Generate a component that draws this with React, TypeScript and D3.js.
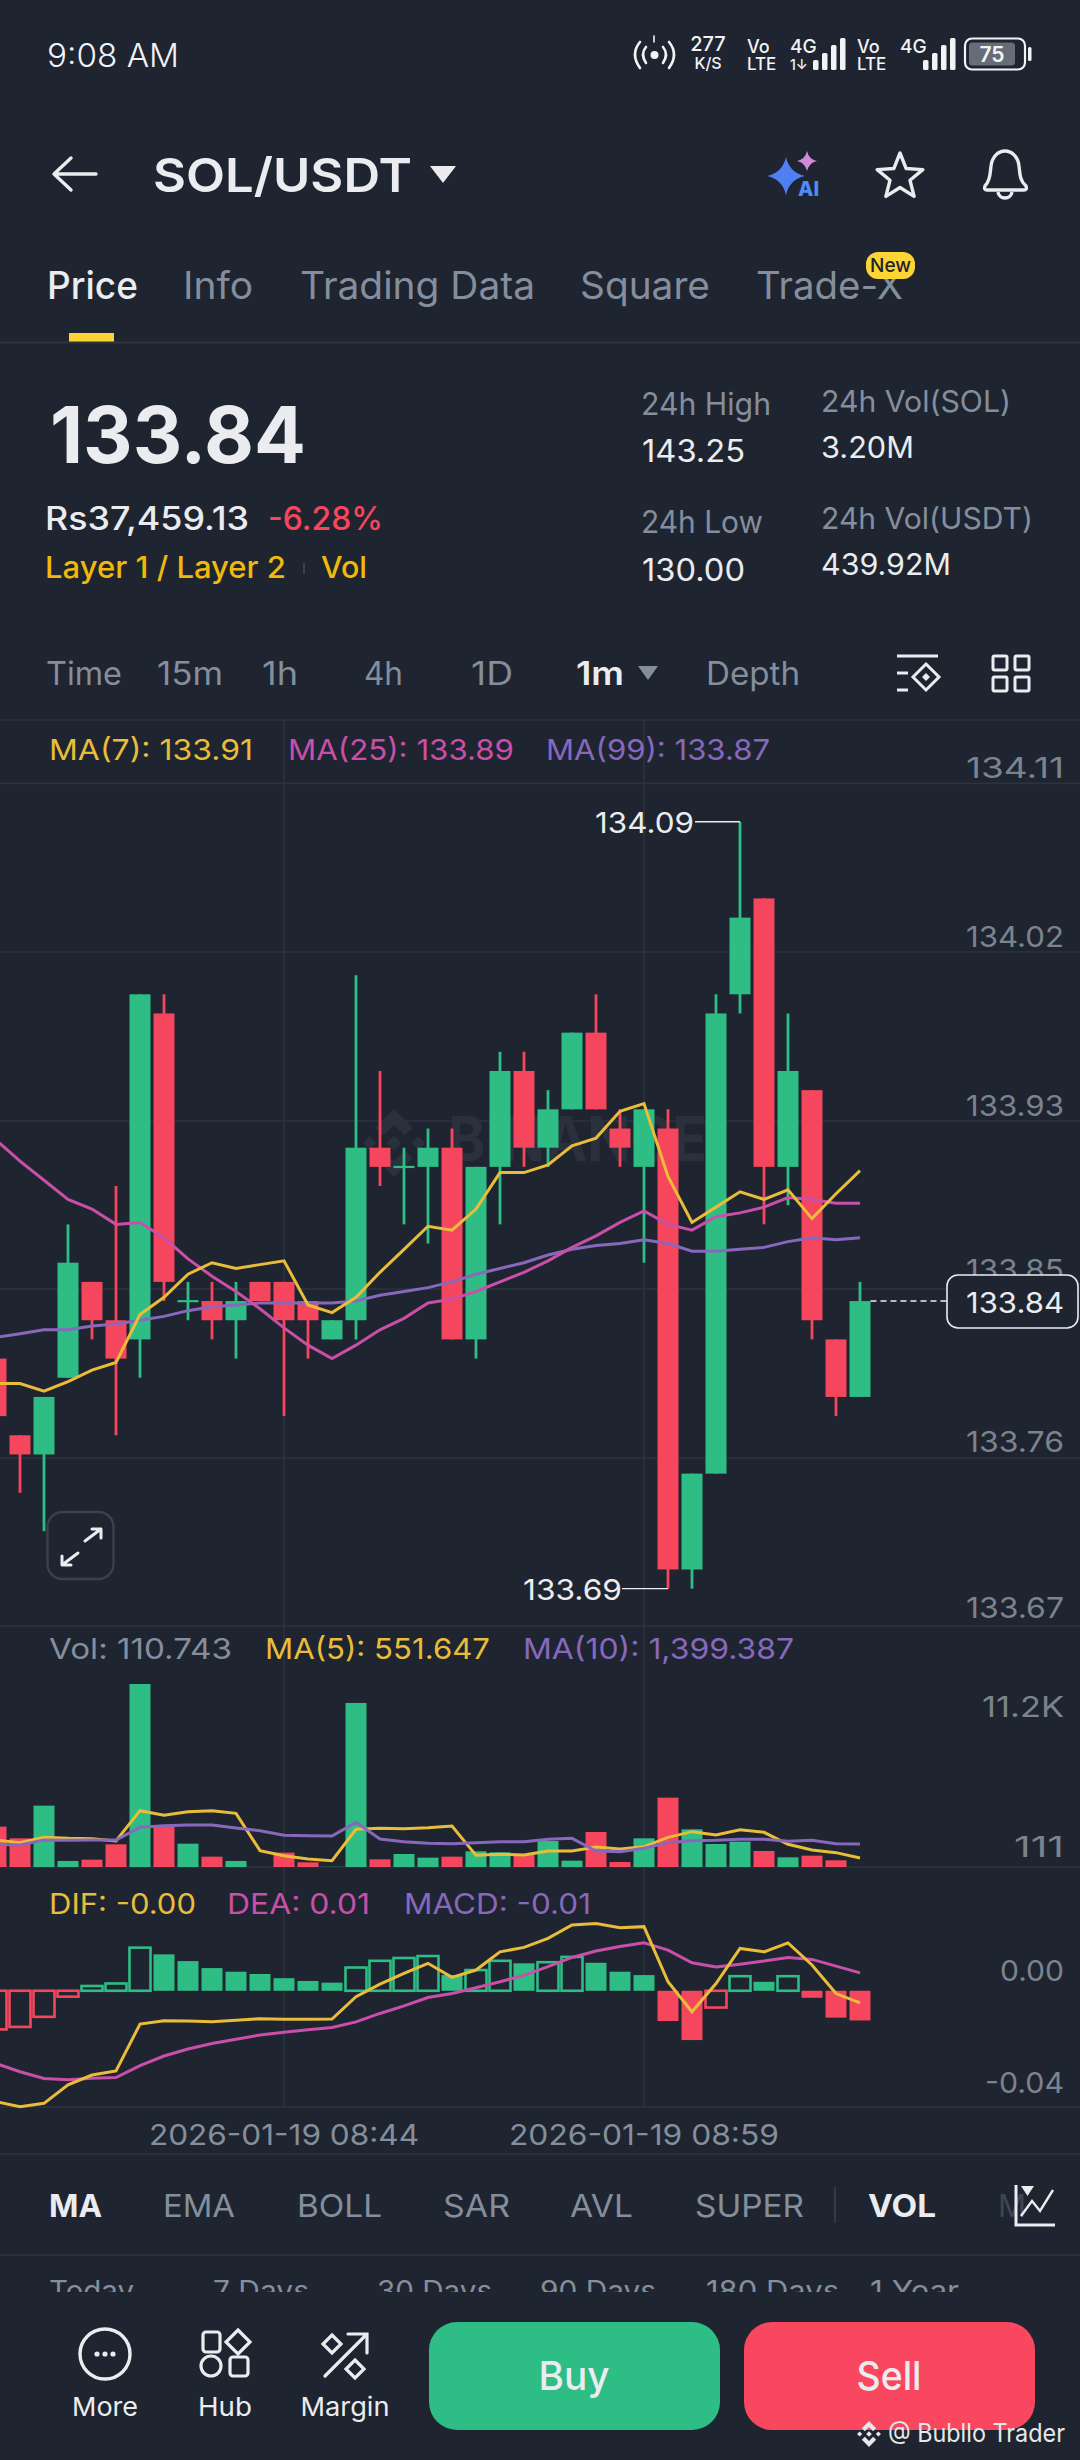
import * as d3 from "d3";

// one candle per minute, 08:32 to 09:08
const minutes = [
  "08:32", "08:33", "08:34", "08:35", "08:36", "08:37", "08:38", "08:39", "08:40", "08:41",
  "08:42", "08:43", "08:44", "08:45", "08:46", "08:47", "08:48", "08:49", "08:50", "08:51",
  "08:52", "08:53", "08:54", "08:55", "08:56", "08:57", "08:58", "08:59", "09:00", "09:01",
  "09:02", "09:03", "09:04", "09:05", "09:06", "09:07", "09:08",
];
const opens = [
  133.81, 133.77, 133.76, 133.80, 133.85, 133.83, 133.82, 133.99, 133.84, 133.84,
  133.83, 133.85, 133.85, 133.84, 133.82, 133.83, 133.92, 133.91, 133.91, 133.92,
  133.82, 133.91, 133.96, 133.92, 133.94, 133.98, 133.93, 133.91, 133.93, 133.70,
  133.75, 134.00, 134.05, 133.91, 133.95, 133.82, 133.79,
];
const closes = [
  133.78, 133.76, 133.79, 133.86, 133.83, 133.81, 134.00, 133.85, 133.84, 133.83,
  133.84, 133.84, 133.83, 133.83, 133.83, 133.92, 133.91, 133.91, 133.92, 133.82,
  133.91, 133.96, 133.92, 133.94, 133.98, 133.94, 133.92, 133.94, 133.70, 133.75,
  133.99, 134.04, 133.91, 133.96, 133.83, 133.79, 133.84,
];
const highs = [
  133.81, 133.77, 133.79, 133.88, 133.85, 133.90, 134.00, 134.00, 133.85, 133.85,
  133.85, 133.85, 133.85, 133.84, 133.83, 134.01, 133.96, 133.92, 133.93, 133.93,
  133.91, 133.97, 133.97, 133.95, 133.98, 134.00, 133.94, 133.94, 133.94, 133.75,
  134.00, 134.09, 134.05, 133.99, 133.95, 133.82, 133.85,
];
const lows = [
  133.78, 133.74, 133.72, 133.80, 133.82, 133.77, 133.80, 133.84, 133.83, 133.82,
  133.81, 133.84, 133.78, 133.81, 133.82, 133.82, 133.90, 133.88, 133.87, 133.82,
  133.81, 133.88, 133.91, 133.91, 133.94, 133.94, 133.91, 133.86, 133.69, 133.69,
  133.75, 133.99, 133.88, 133.89, 133.82, 133.78, 133.79,
];
const ma7 = [
  133.797, 133.797, 133.793, 133.798, 133.804, 133.808, 133.833, 133.842, 133.854, 133.860,
  133.857, 133.859, 133.861, 133.838, 133.834, 133.842, 133.855, 133.867, 133.879, 133.877,
  133.888, 133.907, 133.907, 133.911, 133.921, 133.925, 133.939, 133.943, 133.905, 133.881,
  133.889, 133.897, 133.893, 133.898, 133.883, 133.896, 133.908,
];
const ma25 = [
  133.924, 133.913, 133.903, 133.893, 133.888, 133.880, 133.881, 133.873, 133.862, 133.853,
  133.845, 133.836, 133.826, 133.817, 133.810, 133.817, 133.825, 133.831, 133.839, 133.841,
  133.845, 133.850, 133.855, 133.861, 133.868, 133.874, 133.881, 133.887, 133.880, 133.877,
  133.884, 133.886, 133.889, 133.894, 133.893, 133.891, 133.891,
];
const ma99 = [
  133.821, 133.823, 133.825, 133.825, 133.827, 133.828, 133.830, 133.832, 133.835, 133.837,
  133.838, 133.839, 133.839, 133.839, 133.839, 133.840, 133.843, 133.845, 133.847, 133.850,
  133.854, 133.857, 133.860, 133.864, 133.867, 133.869, 133.870, 133.872, 133.870, 133.866,
  133.866, 133.867, 133.868, 133.871, 133.873, 133.872, 133.873,
];
const volumes = [
  2555, 1848, 3828, 475, 555, 1485, 11200, 2555, 1525, 737,
  475, 115, 980, 394, 120, 10050, 575, 899, 677, 737,
  1060, 1000, 838, 1687, 495, 2232, 414, 1848, 4313, 2394,
  1505, 1646, 1081, 697, 798, 515, 110.743,
];
const volMa5 = [
  1747, 1586, 1909, 1848, 1828, 1687, 3525, 3242, 3464, 3525,
  3363, 1101, 798, 596, 495, 2394, 2454, 2434, 2495, 2596,
  818, 879, 838, 1081, 1081, 1323, 1202, 1343, 1909, 2252,
  2050, 2373, 2212, 1485, 1141, 980, 656,
];
const volMa10 = [
  1485, 1444, 1747, 1727, 1747, 1747, 2515, 2616, 2656, 2656,
  2474, 2313, 2030, 2010, 1990, 2818, 1808, 1646, 1545, 1525,
  1586, 1646, 1646, 1788, 1848, 1081, 1040, 1242, 1586, 1707,
  1727, 1788, 1788, 1666, 1727, 1525, 1505,
];
const macd = [
  -0.0138, -0.0129, -0.0093, -0.0021, 0.0017, 0.0026, 0.0154, 0.0130, 0.0106, 0.0081,
  0.0068, 0.0060, 0.0045, 0.0035, 0.0029, 0.0083, 0.0107, 0.0117, 0.0124, 0.0056,
  0.0074, 0.0107, 0.0098, 0.0102, 0.0121, 0.0100, 0.0068, 0.0056, -0.0108, -0.0176,
  -0.0060, 0.0052, 0.0032, 0.0052, -0.0025, -0.0096, -0.0106,
];
const dif = [
  -0.0396, -0.0414, -0.0402, -0.0336, -0.0301, -0.0286, -0.0119, -0.0107, -0.0108, -0.0111,
  -0.0105, -0.0100, -0.0102, -0.0102, -0.0101, -0.0021, 0.0024, 0.0062, 0.0098, 0.0048,
  0.0074, 0.0139, 0.0155, 0.0187, 0.0235, 0.0240, 0.0225, 0.0229, 0.0032, -0.0075,
  0.0026, 0.0151, 0.0139, 0.0171, 0.0092, -0.0010, -0.0043,
];
const dea = [
  -0.0260, -0.0289, -0.0313, -0.0318, -0.0312, -0.0310, -0.0267, -0.0233, -0.0208, -0.0188,
  -0.0173, -0.0158, -0.0148, -0.0139, -0.0131, -0.0111, -0.0081, -0.0054, -0.0024, -0.0010,
  0.0011, 0.0032, 0.0055, 0.0086, 0.0119, 0.0142, 0.0158, 0.0171, 0.0145, 0.0100,
  0.0085, 0.0095, 0.0106, 0.0119, 0.0112, 0.0088, 0.0064,
];
const priceTicks = ["134.11", "134.02", "133.93", "133.85", "133.76", "133.67"];
const tabs = ["Info", "Trading Data", "Square", "Trade-X"];
const ranges = ["Time", "15m", "1h", "4h", "1D"];
const overlays = ["EMA", "BOLL", "SAR", "AVL", "SUPER"];
const periods = ["Today", "7 Days", "30 Days", "90 Days", "180 Days", "1 Year"];

// text layout: x and width of each label above
const tabX = [[183, 70], [300, 235], [580, 130], [756, 147]];
const rangeX = [[46, 76], [157, 66], [262, 36], [364, 39], [471, 42]];
const overlayX = [[163, 72], [297, 85], [443, 67], [570, 63], [695, 109]];
const periodX = [[49, 85], [213, 96], [377, 115], [540, 116], [706, 133], [870, 89]];
const priceTickY = [777.5, 947, 1115.5, 1280, 1452, 1618];

const BG = "#1e2530";
const GRID = "#2c333e";
const GREEN = "#2ebd85";
const RED = "#f6465d";
const YELLOW = "#e9bd3a";
const PINK = "#c94fa8";
const PURPLE = "#8868bd";
const GRAY = "#848e9c";
const AXIS = "#7b838e";
const WHITE = "#eaecef";
const FONT = "Inter, 'Noto Sans', sans-serif";

// pane geometry
const priceTop = 783.4;
const priceBottom = 1627;
const volBottom = 1867;
const volTop = 1684;
const macdTop = 1867;
const macdBottom = 2106.7;

const x = d3.scaleBand<string>().domain(minutes).range([-16, 872]).paddingInner(0.125).paddingOuter(0.0625);
const bw = x.bandwidth();
const cx = (i: number) => (x(minutes[i]) as number) + bw / 2;
const yPrice = d3.scaleLinear().domain([134.11, 133.67]).range([priceTop, priceBottom]);
const yVol = d3.scaleLinear().domain([110.743, 11200]).range([volBottom, volTop]);
const yMacd = d3.scaleLinear().domain([0.0442, -0.0414]).range([macdTop, macdBottom]);

const lineOf = (y: d3.ScaleLinear<number, number>) =>
  d3.line<number>().x((_, i) => cx(i)).y((d) => y(d));

// l = measured width of the label in the picture
const T = ({ x, y, s, c = WHITE, w = 400, a = "start", l, children }: any) => (
  <text
    x={x}
    y={y}
    fontSize={s}
    fill={c}
    fontWeight={w}
    textAnchor={a}
    fontFamily={FONT}
    textLength={l}
    lengthAdjust={l ? "spacingAndGlyphs" : undefined}
  >
    {children}
  </text>
);

const diamond = (cx: number, cy: number, r: number) =>
  `M${cx} ${cy - r}L${cx + r} ${cy}L${cx} ${cy + r}L${cx - r} ${cy}Z`;

const BinanceLogo = ({ cx, cy, s, fill }: any) => (
  <g fill={fill}>
    <path d={diamond(cx, cy, s * 0.22)} />
    <path d={diamond(cx - s * 0.72, cy, s * 0.2)} />
    <path d={diamond(cx + s * 0.72, cy, s * 0.2)} />
    <path d={`M${cx} ${cy - s}L${cx + s * 0.55} ${cy - s * 0.45}L${cx + s * 0.32} ${cy - s * 0.22}L${cx} ${cy - s * 0.54}L${cx - s * 0.32} ${cy - s * 0.22}L${cx - s * 0.55} ${cy - s * 0.45}Z`} />
    <path d={`M${cx} ${cy + s}L${cx + s * 0.55} ${cy + s * 0.45}L${cx + s * 0.32} ${cy + s * 0.22}L${cx} ${cy + s * 0.54}L${cx - s * 0.32} ${cy + s * 0.22}L${cx - s * 0.55} ${cy + s * 0.45}Z`} />
  </g>
);

const star4 = (cx: number, cy: number, r: number) =>
  `M${cx} ${cy - r}Q${cx + r * 0.18} ${cy - r * 0.18} ${cx + r} ${cy}Q${cx + r * 0.18} ${cy + r * 0.18} ${cx} ${cy + r}Q${cx - r * 0.18} ${cy + r * 0.18} ${cx - r} ${cy}Q${cx - r * 0.18} ${cy - r * 0.18} ${cx} ${cy - r}Z`;

const star5 = (cx: number, cy: number, R: number, r: number) =>
  d3.range(10).map((i) => {
    const a = (i * Math.PI) / 5 - Math.PI / 2;
    const q = i % 2 ? r : R;
    return `${i ? "L" : "M"}${cx + q * Math.cos(a)} ${cy + q * Math.sin(a)}`;
  }).join("") + "Z";

const SignalBars = ({ x0 }: { x0: number }) => (
  <g fill="#f2f3f5">
    {[10, 17, 25, 32].map((h, i) => (
      <rect key={i} x={x0 + i * 9} y={70 - h} width={5.5} height={h} rx={1.5} />
    ))}
  </g>
);

const StatusBar = () => (
  <g>
    <T x={47} y={67} s={32} w={300} c="#f2f3f5" l={132}>9:08 AM</T>
    {/* hotspot */}
    <g fill="none" stroke="#f2f3f5" strokeWidth={2.6} strokeLinecap="round">
      <path d="M640 42Q630 54 640 68" />
      <path d="M646 47Q640 54 646 63" />
      <path d="M663 47Q669 54 663 63" />
      <path d="M669 42Q679 54 669 68" />
      <path d="M654 36v6" strokeWidth={1.6} />
    </g>
    <circle cx={654.5} cy={55} r={4} fill="#f2f3f5" />
    <T x={708} y={51} s={20} w={500} a="middle" c="#f2f3f5">277</T>
    <T x={708} y={69} s={16} w={500} a="middle" c="#f2f3f5">K/S</T>
    <T x={747} y={53} s={18} w={500} c="#f2f3f5">Vo</T>
    <T x={747} y={70} s={17} w={500} c="#f2f3f5">LTE</T>
    <T x={790} y={53} s={19} w={500} c="#f2f3f5">4G</T>
    <T x={790} y={70} s={14} w={500} c="#f2f3f5">1↓</T>
    <SignalBars x0={813} />
    <T x={857} y={53} s={18} w={500} c="#f2f3f5">Vo</T>
    <T x={857} y={70} s={17} w={500} c="#f2f3f5">LTE</T>
    <T x={900} y={53} s={19} w={500} c="#f2f3f5">4G</T>
    <SignalBars x0={923} />
    <rect x={965} y={38.5} width={60} height={31} rx={7} fill="none" stroke="#f2f3f5" strokeWidth={2.2} />
    <rect x={969} y={42.5} width={46} height={23} rx={3.5} fill="#666d78" />
    <rect x={1028} y={47} width={3.5} height={14} rx={1.5} fill="#f2f3f5" />
    <T x={992} y={62} s={21} w={600} a="middle" c="#f2f3f5">75</T>
  </g>
);

const Header = () => (
  <g>
    <path d="M96 174H54M71 158L54 174L71 190" fill="none" stroke={WHITE} strokeWidth={3.4} strokeLinecap="round" strokeLinejoin="round" />
    <T x={153} y={192} s={47} w={600} l={259}>SOL/USDT</T>
    <path d="M430 166H456L443 183Z" fill={WHITE} />
    <path d={star4(786, 176, 19)} fill="#4f7ff0" />
    <path d={star4(807, 161, 10)} fill="#d08ad8" />
    <T x={798} y={196} s={20} w={800} c="#4f8df5">AI</T>
    <path d={star5(900, 177, 24, 10.5)} fill="none" stroke={WHITE} strokeWidth={3.4} strokeLinejoin="round" />
    <path d="M985 186C991 180 990 172 991 166C992 157 998 151 1005 151C1012 151 1018 157 1019 166C1020 172 1019 180 1026 186C1027 189 1026 190 1024 190H987C985 190 984 189 985 186Z" fill="none" stroke={WHITE} strokeWidth={3.4} strokeLinejoin="round" />
    <path d="M998 192C999 200 1011 200 1012 192" fill="none" stroke={WHITE} strokeWidth={3.4} />

    <T x={47} y={299} s={37.5} w={500} l={91}>Price</T>
    {tabs.map((t, i) => (
      <T key={t} x={tabX[i][0]} y={299} s={37.5} c={GRAY} l={tabX[i][1]}>{t}</T>
    ))}
    <rect x={866} y={252} width={49} height={27} rx={12} fill="#fcd535" />
    <T x={890.5} y={272} s={19} w={500} a="middle" c="#1e2329">New</T>
    <rect x={69} y={333} width={45} height={9.5} fill="#fcd535" />
    <line x1={0} x2={1080} y1={342.5} y2={342.5} stroke={GRID} strokeWidth={2} />
  </g>
);

const Stats = () => (
  <g>
    <T x={50} y={463} s={78} w={700} l={256}>133.84</T>
    <T x={45} y={530} s={32} w={500} l={204}>Rs37,459.13</T>
    <T x={268} y={530} s={32} w={500} c={RED} l={115}>-6.28%</T>
    <T x={45} y={578} s={30} w={500} c="#f0b90b" l={241}>Layer 1 / Layer 2</T>
    <line x1={304} x2={304} y1={563} y2={574} stroke="#3a414c" strokeWidth={2} />
    <T x={321} y={578} s={30} w={500} c="#f0b90b" l={46}>Vol</T>
    <T x={641} y={415} s={31} c={GRAY} l={130}>24h High</T>
    <T x={642} y={462} s={31} l={103}>143.25</T>
    <T x={641} y={533} s={31} c={GRAY} l={122}>24h Low</T>
    <T x={642} y={581} s={31} l={103}>130.00</T>
    <T x={821} y={412} s={29.5} c={GRAY} l={190}>24h Vol(SOL)</T>
    <T x={821} y={458} s={29.5} l={93}>3.20M</T>
    <T x={821} y={529} s={29.5} c={GRAY} l={212}>24h Vol(USDT)</T>
    <T x={821} y={575} s={29.5} l={130}>439.92M</T>
  </g>
);

const RangeRow = () => (
  <g>
    {ranges.map((t, i) => (
      <T key={t} x={rangeX[i][0]} y={685} s={32} c={GRAY} l={rangeX[i][1]}>{t}</T>
    ))}
    <T x={576} y={685} s={32} w={600} l={48}>1m</T>
    <path d="M638 666H658L648 680Z" fill={GRAY} />
    <T x={706} y={685} s={32} c={GRAY} l={94}>Depth</T>
    <g fill="none" stroke={WHITE} strokeWidth={3}>
      <path d="M897 656H938M897 673H908M897 690H908" />
      <path d={diamond(926, 677, 13)} />
      <path d={diamond(926, 677, 4)} fill={WHITE} stroke="none" />
      <rect x={993} y={656} width={14} height={14} rx={1.5} />
      <rect x={1015} y={656} width={14} height={14} rx={1.5} />
      <rect x={993} y={677} width={14} height={14} rx={1.5} />
      <rect x={1015} y={677} width={14} height={14} rx={1.5} />
    </g>
  </g>
);

const Grid = () => (
  <g stroke={GRID} strokeWidth={1.6}>
    {[720, 783.4, 952, 1121, 1289, 1458, 1626, 1867, 2107, 2154, 2255].map((y) => (
      <line key={y} x1={0} x2={1080} y1={y} y2={y} />
    ))}
    {[cx(12), cx(27)].map((v) => (
      <line key={v} x1={v} x2={v} y1={720} y2={2107} />
    ))}
  </g>
);

const PricePane = () => (
  <g>
    <BinanceLogo cx={394} cy={1143} s={34} fill="#2a313c" />
    <T x={448} y={1161} s={62} w={700} c="#2a313c" l={259}>BINANCE</T>
    {minutes.map((m, i) => {
      const up = closes[i] >= opens[i];
      const color = up ? GREEN : RED;
      const top = yPrice(Math.max(opens[i], closes[i]));
      const h = Math.abs(yPrice(opens[i]) - yPrice(closes[i]));
      return (
        <g key={m}>
          <line x1={cx(i)} x2={cx(i)} y1={yPrice(highs[i])} y2={yPrice(lows[i])} stroke={color} strokeWidth={2.8} />
          <rect x={x(m)} y={h ? top : top - 1} width={bw} height={h || 2.2} fill={color} />
        </g>
      );
    })}
    <path d={lineOf(yPrice)(ma99) as string} fill="none" stroke={PURPLE} strokeWidth={3} />
    <path d={lineOf(yPrice)(ma25) as string} fill="none" stroke={PINK} strokeWidth={3} />
    <path d={lineOf(yPrice)(ma7) as string} fill="none" stroke={YELLOW} strokeWidth={3} />

    <T x={49} y={760} s={29} c={YELLOW} l={204}>MA(7): 133.91</T>
    <T x={288} y={760} s={29} c={PINK} l={226}>MA(25): 133.89</T>
    <T x={546} y={760} s={29} c={PURPLE} l={224}>MA(99): 133.87</T>

    {priceTicks.map((t, i) => (
      <T key={t} x={1064} y={priceTickY[i]} s={29} c={AXIS} a="end" l={98}>{t}</T>
    ))}

    {/* high / low markers */}
    <path d={`M695 ${yPrice(134.09)}H${cx(31)}`} stroke={WHITE} strokeWidth={1.4} fill="none" />
    <T x={694} y={833} s={29} a="end" l={99}>134.09</T>
    <path d={`M622 ${yPrice(133.69)}H${cx(28)}`} stroke={WHITE} strokeWidth={1.4} fill="none" />
    <T x={622} y={1600} s={29} a="end" l={99}>133.69</T>

    {/* last price */}
    <line x1={cx(36) + bw / 2} x2={947} y1={yPrice(133.84)} y2={yPrice(133.84)} stroke={WHITE} strokeWidth={1.4} strokeDasharray="6 4" />
    <rect x={947} y={1275} width={131} height={53} rx={11} fill={BG} stroke={WHITE} strokeWidth={1.6} />
    <T x={1064} y={1313} s={29} a="end" l={98}>133.84</T>

    {/* expand button */}
    <rect x={47.5} y={1512} width={66} height={67} rx={15} fill="none" stroke="#3a414c" strokeWidth={2.4} />
    <path d="M62 1565L78 1553M62 1565V1556M62 1565H71M101 1529L85 1541M101 1529V1538M101 1529H92" fill="none" stroke={WHITE} strokeWidth={3} strokeLinecap="round" />
  </g>
);

const VolumePane = () => (
  <g>
    <T x={49} y={1659} s={29} c={GRAY} l={183}>Vol: 110.743</T>
    <T x={265} y={1659} s={29} c={YELLOW} l={225}>MA(5): 551.647</T>
    <T x={523} y={1659} s={29} c={PURPLE} l={271}>MA(10): 1,399.387</T>
    {minutes.map((m, i) => (
      <rect
        key={m}
        x={x(m)}
        y={yVol(volumes[i])}
        width={bw}
        height={volBottom - yVol(volumes[i])}
        fill={closes[i] >= opens[i] ? GREEN : RED}
      />
    ))}
    <path d={lineOf(yVol)(volMa5) as string} fill="none" stroke={YELLOW} strokeWidth={3} />
    <path d={lineOf(yVol)(volMa10) as string} fill="none" stroke={PURPLE} strokeWidth={3} />
    <T x={1064} y={1717} s={29} c={AXIS} a="end" l={82}>11.2K</T>
    <T x={1064} y={1857} s={29} c={AXIS} a="end" l={50}>111</T>
  </g>
);

const MacdPane = () => (
  <g>
    <T x={49} y={1914} s={29} c={YELLOW} l={147}>DIF: -0.00</T>
    <T x={227} y={1914} s={29} c={PINK} l={143}>DEA: 0.01</T>
    <T x={404} y={1914} s={29} c={PURPLE} l={187}>MACD: -0.01</T>
    {minutes.map((m, i) => {
      const color = macd[i] >= 0 ? GREEN : RED;
      const hollow = i === 0 || macd[i] > macd[i - 1];
      const y0 = yMacd(Math.max(macd[i], 0));
      const h = Math.abs(yMacd(macd[i]) - yMacd(0));
      return (
        <rect
          key={m}
          x={x(m)}
          y={y0}
          width={bw}
          height={h}
          fill={hollow ? "none" : color}
          stroke={hollow ? color : "none"}
          strokeWidth={2.6}
        />
      );
    })}
    <path d={lineOf(yMacd)(dea) as string} fill="none" stroke={PINK} strokeWidth={3} />
    <path d={lineOf(yMacd)(dif) as string} fill="none" stroke={YELLOW} strokeWidth={3} />
    <T x={1064} y={1981} s={29} c={AXIS} a="end" l={64}>0.00</T>
    <T x={1064} y={2093} s={29} c={AXIS} a="end" l={79}>-0.04</T>
    <T x={cx(12)} y={2145} s={29} c={GRAY} a="middle" l={270}>2026-01-19 08:44</T>
    <T x={cx(27)} y={2145} s={29} c={GRAY} a="middle" l={270}>2026-01-19 08:59</T>
  </g>
);

const Footer = () => (
  <g>
    <T x={49} y={2217} s={31} w={700} l={53}>MA</T>
    {overlays.map((t, i) => (
      <T key={t} x={overlayX[i][0]} y={2217} s={31} c={GRAY} l={overlayX[i][1]}>{t}</T>
    ))}
    <line x1={835} x2={835} y1={2187} y2={2223} stroke="#3a414c" strokeWidth={1.6} />
    <T x={868} y={2217} s={31} w={700} l={68}>VOL</T>
    <T x={998} y={2217} s={31} c="#3e4550">M</T>
    <g fill="none" stroke={WHITE} strokeWidth={3}>
      <path d="M1016 2185V2225H1055" />
      <path d="M1021 2216L1032 2201L1040 2211L1053 2190" strokeWidth={2.4} />
    </g>
    <path d="M1021 2186H1034L1027.5 2196Z" fill={WHITE} />

    <clipPath id="periods">
      <rect x={0} y={2256} width={1080} height={36} />
    </clipPath>
    <g clipPath="url(#periods)">
      {periods.map((t, i) => (
        <T key={t} x={periodX[i][0]} y={2301} s={28} c={GRAY} l={periodX[i][1]}>{t}</T>
      ))}
    </g>

    {/* More */}
    <circle cx={105} cy={2354} r={25} fill="none" stroke={WHITE} strokeWidth={3.4} />
    {[-8, 0, 8].map((d) => (
      <circle key={d} cx={105 + d} cy={2354} r={2.6} fill={WHITE} />
    ))}
    <T x={105} y={2416} s={26} a="middle" l={66}>More</T>
    {/* Hub */}
    <g fill="none" stroke={WHITE} strokeWidth={3.2}>
      <rect x={203} y={2332} width={17} height={20} rx={3} />
      <path d={diamond(238, 2342, 12)} />
      <circle cx={211} cy={2366} r={10} />
      <rect x={230} y={2357} width={18} height={19} rx={3} />
    </g>
    <T x={225} y={2416} s={26} a="middle" l={54}>Hub</T>
    {/* Margin */}
    <g fill="none" stroke={WHITE} strokeWidth={3.2} strokeLinecap="round">
      <path d="M325 2376L366 2335M348 2334H367V2353" />
      <path d={diamond(332, 2344, 9)} />
      <path d={diamond(355, 2369, 9)} />
    </g>
    <T x={345} y={2416} s={26} a="middle" l={89}>Margin</T>

    <rect x={429} y={2322} width={291} height={108} rx={28} fill={GREEN} />
    <T x={574} y={2390} s={39} w={500} a="middle" l={71}>Buy</T>
    <rect x={744} y={2322} width={291} height={108} rx={28} fill="#f8475f" />
    <T x={889} y={2390} s={39} w={500} a="middle" l={65}>Sell</T>

    <BinanceLogo cx={869} cy={2434} s={13} fill="#e8e8e8" />
    <T x={888} y={2442} s={25} c="#e8e8e8" l={177}>@ Bubllo Trader</T>
  </g>
);

export default function App() {
  return (
    <div style={{ position: "absolute", left: 0, top: 0, width: 1080, height: 2460 }}>
      <svg width={1080} height={2460} viewBox="0 0 1080 2460" style={{ display: "block", background: BG }}>
        <Grid />
        <StatusBar />
        <Header />
        <Stats />
        <RangeRow />
        <PricePane />
        <VolumePane />
        <MacdPane />
        <Footer />
      </svg>
    </div>
  );
}
